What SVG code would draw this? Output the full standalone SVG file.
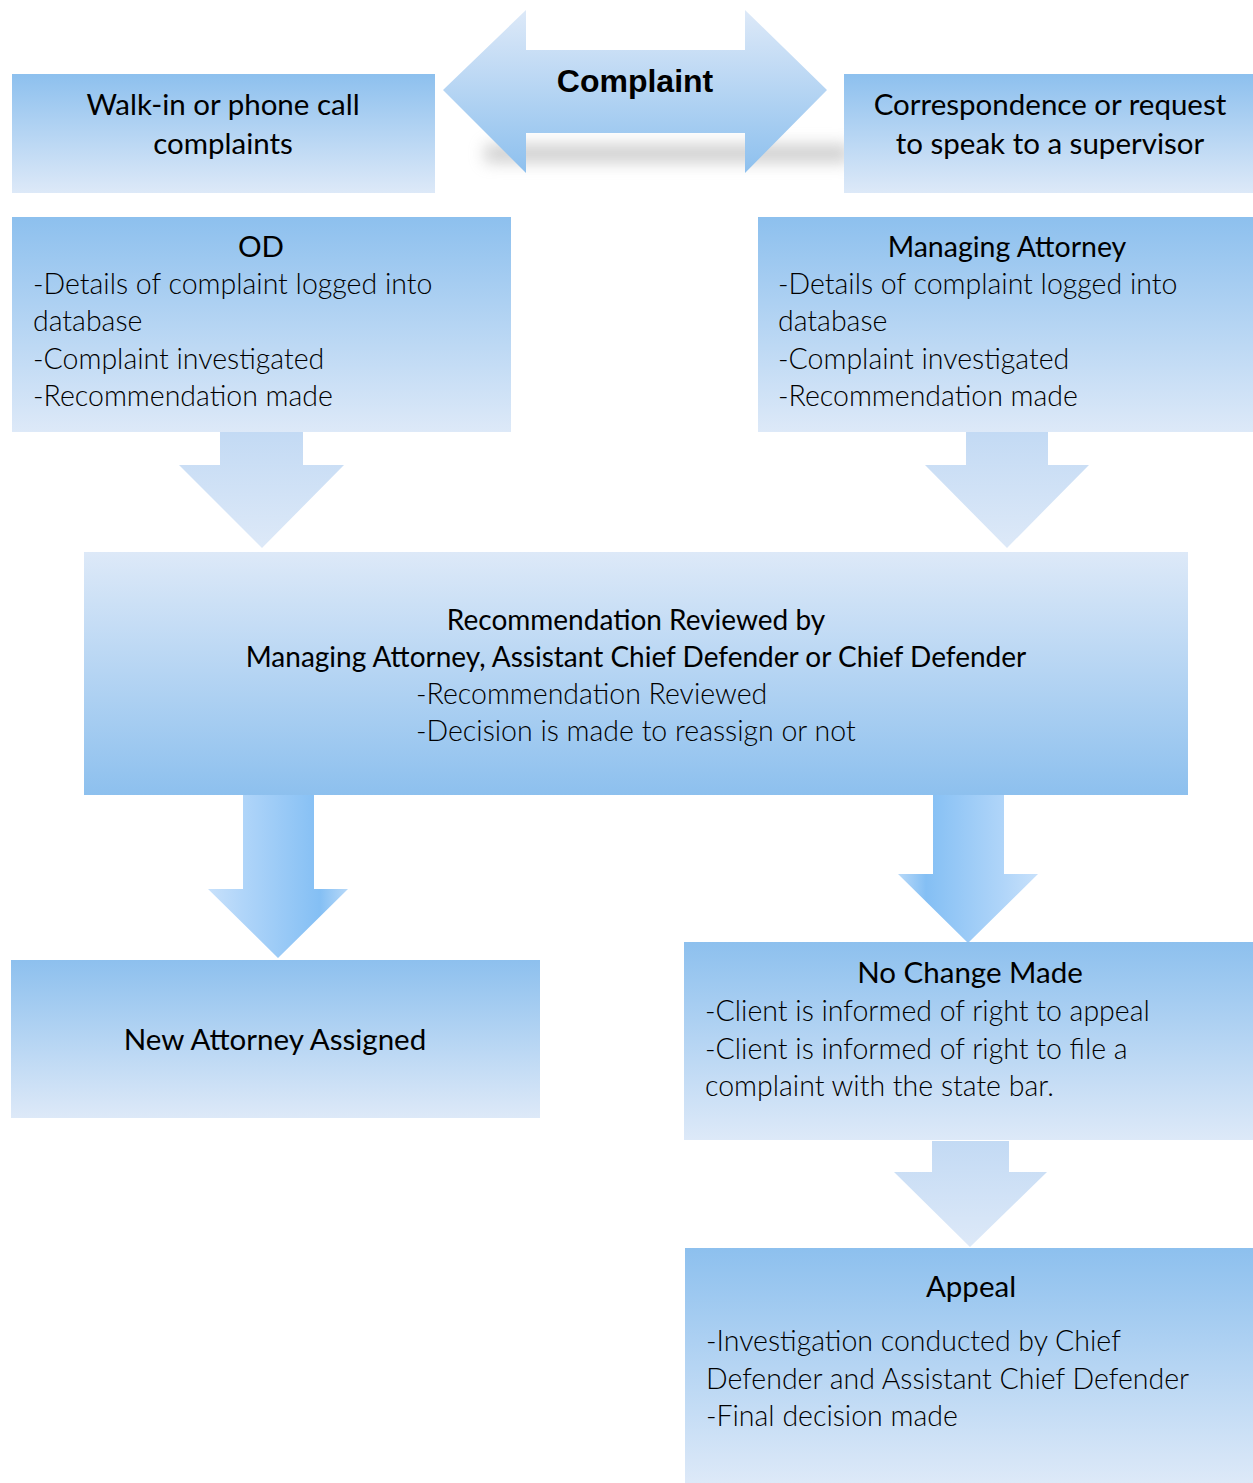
<svg xmlns="http://www.w3.org/2000/svg" width="1253" height="1483" viewBox="0 0 1253 1483">
<defs>
<linearGradient id="gDown" x1="0" y1="0" x2="0" y2="1">
<stop offset="0" stop-color="#8dc0ee"/>
<stop offset="1" stop-color="#dde9f8"/>
</linearGradient>
<linearGradient id="gUp" x1="0" y1="0" x2="0" y2="1">
<stop offset="0" stop-color="#dde9f8"/>
<stop offset="1" stop-color="#8dc0ee"/>
</linearGradient>
<linearGradient id="gArrowTop" x1="0" y1="0" x2="0" y2="1">
<stop offset="0" stop-color="#dde9f8"/>
<stop offset="1" stop-color="#8dc0ee"/>
</linearGradient>
<linearGradient id="gPale" x1="0" y1="0" x2="0" y2="1">
<stop offset="0" stop-color="#c3daf4"/>
<stop offset="1" stop-color="#dde9f8"/>
</linearGradient>
<linearGradient id="gLR" x1="0" y1="0" x2="1" y2="0">
<stop offset="0" stop-color="#c8e1fb"/>
<stop offset="0.25" stop-color="#b0d5f9"/>
<stop offset="0.8" stop-color="#84bff4"/>
<stop offset="1" stop-color="#b8d9f8"/>
</linearGradient>
<linearGradient id="gRL" x1="1" y1="0" x2="0" y2="0">
<stop offset="0" stop-color="#c8e1fb"/>
<stop offset="0.25" stop-color="#b0d5f9"/>
<stop offset="0.8" stop-color="#84bff4"/>
<stop offset="1" stop-color="#b8d9f8"/>
</linearGradient>
<filter id="blur" x="-20%" y="-150%" width="140%" height="400%">
<feGaussianBlur stdDeviation="8"/>
</filter>
</defs>
<style>
text { font-family: Lato, "Open Sans", "Liberation Sans", sans-serif; font-size: 29.5px; fill: #000; }
.c { text-anchor: middle; }
.l { font-size: 28.5px; font-weight: 300; }
.b { font-family: "Liberation Sans", Arial, sans-serif; font-weight: bold; font-size: 32px; }
</style>
<rect width="1253" height="1483" fill="#fff"/>

<g id="connectors">
<path d="M485,145 L850,145 L850,162 L485,162 Z" fill="#9a9a9a" opacity="0.5" filter="url(#blur)"/>
<polygon points="443,90 526,10 526,50 745,50 745,10 827,90 745,173 745,133 526,133 526,173" fill="url(#gArrowTop)"/>
<polygon points="220,432 303,432 303,465 344,465 262,548 179,465 220,465" fill="url(#gPale)"/>
<polygon points="966,432 1048,432 1048,465 1089,465 1007,548 925,465 966,465" fill="url(#gPale)"/>
<polygon points="243,795 314,795 314,889 348,889 278,958 208,889 243,889" fill="url(#gLR)"/>
<polygon points="933,795 1004,795 1004,874 1038,874 968,943 898,874 933,874" fill="url(#gRL)"/>
<polygon points="932,1141 1009,1141 1009,1172 1047,1172 970,1247 894,1172 932,1172" fill="url(#gPale)"/>
</g>

<g id="complaint">
<text class="c b" x="635" y="92">Complaint</text>
</g>

<g id="walkin">
<rect x="12" y="74" width="423" height="119" fill="url(#gDown)"/>
<text class="c" x="223" y="115">Walk-in or phone call</text>
<text class="c" x="223" y="154">complaints</text>
</g>

<g id="correspondence">
<rect x="844" y="74" width="409" height="119" fill="url(#gDown)"/>
<text class="c" x="1050" y="115">Correspondence or request</text>
<text class="c" x="1050" y="154">to speak to a supervisor</text>
</g>

<g id="od">
<rect x="12" y="217" width="499" height="215" fill="url(#gDown)"/>
<text class="c" x="261" y="257">OD</text>
<text class="l" x="33" y="294">-Details of complaint logged into</text>
<text class="l" x="33" y="331">database</text>
<text class="l" x="33" y="369">-Complaint investigated</text>
<text class="l" x="33" y="406">-Recommendation made</text>
</g>

<g id="managing">
<rect x="758" y="217" width="495" height="215" fill="url(#gDown)"/>
<text class="c" x="1007" y="257" style="font-size:28.5px">Managing Attorney</text>
<text class="l" x="778" y="294">-Details of complaint logged into</text>
<text class="l" x="778" y="331">database</text>
<text class="l" x="778" y="369">-Complaint investigated</text>
<text class="l" x="778" y="406">-Recommendation made</text>
</g>

<g id="review">
<rect x="84" y="552" width="1104" height="243" fill="url(#gUp)"/>
<text class="c" x="636" y="630" style="font-size:28px">Recommendation Reviewed by</text>
<text class="c" x="636" y="667" style="font-size:28px">Managing Attorney, Assistant Chief Defender or Chief Defender</text>
<text class="l" x="416" y="704">-Recommendation Reviewed</text>
<text class="l" x="416" y="741">-Decision is made to reassign or not</text>
</g>

<g id="newattorney">
<rect x="11" y="960" width="529" height="158" fill="url(#gDown)"/>
<text class="c" x="275" y="1050">New Attorney Assigned</text>
</g>

<g id="nochange">
<rect x="684" y="942" width="569" height="198" fill="url(#gDown)"/>
<text class="c" x="970" y="983">No Change Made</text>
<text class="l" x="705" y="1021">-Client is informed of right to appeal</text>
<text class="l" x="705" y="1059">-Client is informed of right to file a</text>
<text class="l" x="705" y="1096">complaint with the state bar.</text>
</g>

<g id="appeal">
<rect x="685" y="1248" width="568" height="235" fill="url(#gDown)"/>
<text class="c" x="971" y="1297">Appeal</text>
<text class="l" x="706" y="1351">-Investigation conducted by Chief</text>
<text class="l" x="706" y="1389">Defender and Assistant Chief Defender</text>
<text class="l" x="706" y="1426">-Final decision made</text>
</g>
</svg>
